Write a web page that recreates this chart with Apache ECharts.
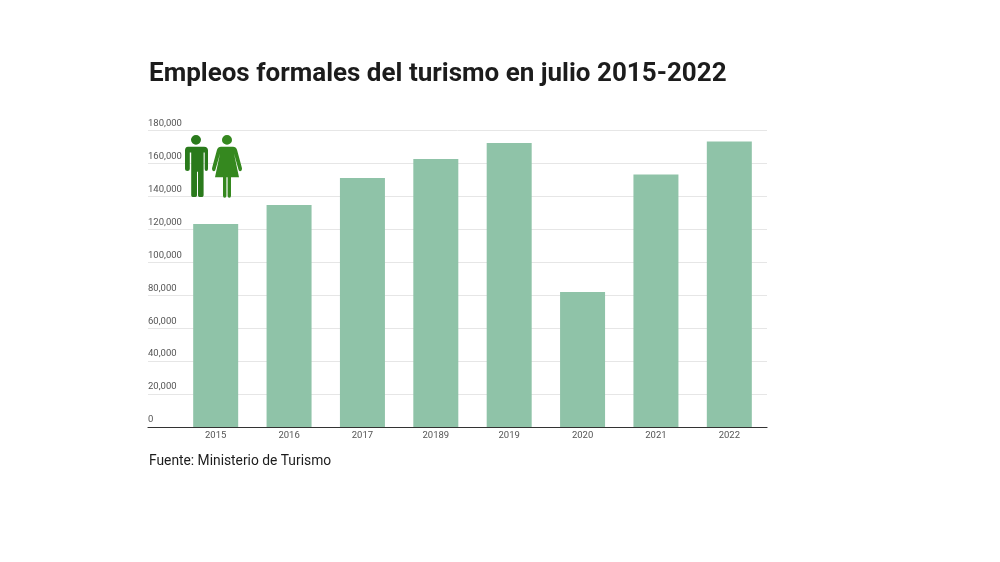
<!DOCTYPE html>
<html>
<head>
<meta charset="utf-8">
<style>html,body{margin:0;padding:0;background:#fff}#c{width:1000px;height:562px}</style>
<script src="https://cdn.jsdelivr.net/npm/echarts@6/dist/echarts.min.js"></script>
</head>
<body>
<div id="c"></div>
<script>
const categories = ['2015','2016','2017','20189','2019','2020','2021','2022'];
const empleos = [123200,134800,151200,162700,172400,82000,153300,173300];
const titleText = 'Empleos formales del turismo en julio 2015-2022';
const sourceText = 'Fuente: Ministerio de Turismo';

const manPath = 'M12 0a5 5 0 1 1-.01 0z M4 12H20Q24 12 24 16V35Q24 37 22.2 37Q20.7 37 20.7 35V18H19.6V62Q19.6 64 16.8 64Q14 64 14 62V38H13V62Q13 64 10 64Q7.2 64 7.2 62V18H5.8V35Q5.8 37 3.4 37Q1 37 1 35V16Q1 12 4 12z';
const womanPath = 'M15 0a5 5 0 1 1-.01 0z M9 12H21Q24 12 25 15L30 34Q30 37 28 37Q26.8 37 26.4 35L22 19L27 43H19V62Q19 64 17.4 64Q15.6 64 15.6 62V43H14.4V62Q14.4 64 12.6 64Q11 64 11 62V43H3L8 19L3.6 35Q3.2 37 2 37Q0 37 0 34L5 15Q6 12 9 12z';
echarts.graphic.registerShape('manIcon', echarts.graphic.extendPath(manPath, {}));
echarts.graphic.registerShape('womanIcon', echarts.graphic.extendPath(womanPath, {}));

const chart = echarts.init(document.getElementById('c'), null, {renderer:'canvas'});
const font = 'Roboto';
chart.setOption({
  animation:false,
  backgroundColor:'#fff',
  title:[
    {text:titleText,left:149,top:61,padding:0,textStyle:{fontFamily:font,fontSize:26,fontWeight:700,color:'#1c1c1c'}},
    {text:sourceText,left:149,top:455,padding:0,textStyle:{fontFamily:font,fontSize:13.8,fontWeight:400,color:'#1c1c1c'}}
  ],
  grid:[
    {left:179,right:234,top:130.5,height:296.5},
    {left:148,right:233,top:130.5,height:296.5}
  ],
  xAxis:[
    {type:'category',gridIndex:0,data:categories,axisTick:{show:false},axisLine:{show:false},
     axisLabel:{fontFamily:font,fontSize:9.5,color:'#555',margin:4}},
    {type:'category',gridIndex:1,data:[''],axisTick:{show:false},axisLabel:{show:false},
     axisLine:{show:true,lineStyle:{color:'#333',width:1.2}}}
  ],
  yAxis:[
    {type:'value',gridIndex:0,min:0,max:180000,interval:20000,show:false,splitLine:{show:false}},
    {type:'value',gridIndex:1,min:0,max:180000,interval:20000,axisLine:{show:false},axisTick:{show:false},
     splitLine:{show:true,lineStyle:{color:'#e6e6e6',width:1}},
     axisLabel:{inside:true,margin:0,fontFamily:font,fontSize:9.5,color:'#555',verticalAlign:'bottom',padding:[0,0,2,0]}}
  ],
  series:[
    {type:'bar',xAxisIndex:0,yAxisIndex:0,data:empleos,barWidth:45,z:3,
     itemStyle:{color:'#8fc3a8'}}
  ],
  graphic:[
    {type:'manIcon',z:10,x:184,y:135,scaleY:0.97,style:{fill:'#2a7a1c'}},
    {type:'womanIcon',z:10,x:212,y:135,scaleY:0.98,style:{fill:'#35881f'}}
  ]
});
</script>
</body>
</html>
